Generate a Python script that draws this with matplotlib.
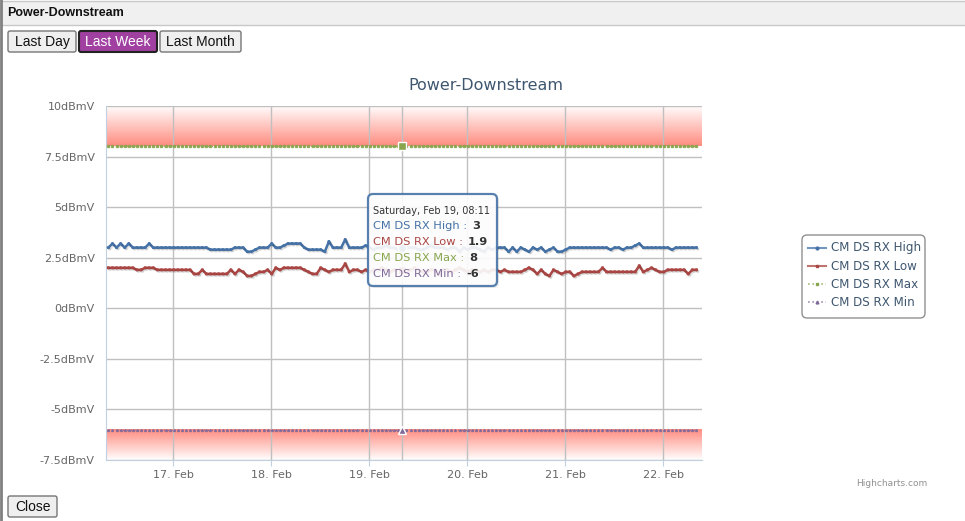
import datetime as dt
import numpy as np
import matplotlib
matplotlib.use("Agg")
import matplotlib.pyplot as plt
import matplotlib.dates as mdates
import matplotlib.patheffects as pe
from matplotlib.patches import Rectangle, FancyBboxPatch
from matplotlib.colors import LinearSegmentedColormap
from matplotlib.ticker import FuncFormatter

# hourly samples, Feb 16 08:11 -> Feb 22 08:11
start = dt.datetime(2011, 2, 16, 8, 11)

rx_high = [3.0, 3.2, 3.0, 3.2, 3.0, 3.2, 3.0, 3.0, 3.0, 3.0,
           3.2,
           3.0, 3.0, 3.0, 3.0, 3.0, 3.0, 3.0, 3.0, 3.0, 3.0, 3.0, 3.0, 3.0, 3.0,
           2.9, 2.9, 2.9, 2.9, 2.9, 2.9,
           3.0, 3.0, 3.0,
           2.8, 2.8,
           2.9, 3.0, 3.0, 3.0, 3.2, 3.0, 3.0, 3.1, 3.2, 3.2, 3.2, 3.2,
           3.0, 2.9, 2.9, 2.9, 2.9, 2.8, 3.3, 3.0, 3.0, 3.0, 3.4, 3.0, 3.0, 3.0, 3.0, 3.1, 3.0,
           2.9, 3.0, 3.0, 3.1, 3.0, 3.0, 2.9, 3.0, 3.0, 3.0, 3.0, 2.9, 2.9, 3.0, 3.1,
           3.0, 3.0, 3.0, 2.9, 3.0, 3.0, 2.8, 3.0, 2.9, 3.0, 3.0, 2.9, 2.8, 3.0, 2.9,
           3.0, 3.0, 3.0, 2.8, 3.0, 2.8, 3.0, 2.9, 2.8, 3.0,
           2.9, 3.0, 2.8, 2.9, 3.0, 2.8, 2.8, 2.9, 3.0, 3.0,
           3.0, 3.0, 3.0, 3.0, 3.0, 3.0, 3.0, 3.0, 2.9, 3.0,
           3.0, 2.9, 3.0, 3.0, 3.1, 3.2, 3.0, 3.0, 3.0, 3.0,
           3.0, 3.0, 3.0, 2.9, 3.0, 3.0, 3.0, 3.0, 3.0, 3.0]

rx_low = [2.0, 2.0, 2.0, 2.0, 2.0, 2.0, 2.0,
          1.9, 1.9,
          2.0, 2.0, 2.0,
          1.9, 1.9, 1.9, 1.9, 1.9, 1.9, 1.9, 1.9, 1.9,
          1.7, 1.7,
          1.9,
          1.7, 1.7, 1.7, 1.7, 1.7, 1.7,
          1.9, 1.7, 1.9, 1.8, 1.6, 1.6,
          1.7, 1.8, 1.8, 1.9, 1.7, 2.0, 1.9, 2.0, 2.0, 2.0, 2.0, 2.0,
          1.9, 1.8, 1.7, 1.7, 2.0, 1.9, 1.8, 1.9, 1.9, 1.9, 2.2, 1.8, 1.9, 1.9, 1.8, 1.9,
          1.8, 1.9, 1.9, 2.0, 1.9, 1.8, 1.9, 1.9, 1.9, 1.8,
          1.9, 2.0, 1.9, 1.8, 1.8, 1.9, 1.9, 1.7, 1.9, 1.9,
          1.8, 1.9, 2.0, 1.9, 1.8, 1.9, 1.9, 1.8, 1.9, 1.8,
          1.9, 1.9, 1.8, 1.9, 1.8, 1.8, 1.8, 1.8, 1.9, 2.0,
          1.9, 1.7, 1.9, 1.7, 1.6, 1.9, 1.8, 1.7, 1.8, 1.8,
          1.6, 1.7, 1.8, 1.8, 1.8, 1.8, 1.8, 2.0, 1.8, 1.8,
          1.8, 1.8, 1.8, 1.8, 1.8, 1.8, 2.1, 1.8, 1.9, 2.0,
          1.9, 1.8, 1.8, 1.9, 1.9, 1.9, 1.9, 1.9, 1.7, 1.9,
          1.9]

times = [start + dt.timedelta(hours=i) for i in range(len(rx_high))]
rx_max = [8] * len(times)
rx_min = [-6] * len(times)

series_names = ["CM DS RX High", "CM DS RX Low", "CM DS RX Max", "CM DS RX Min"]
series_vals = [rx_high, rx_low, rx_max, rx_min]
colors = ["#4572A7", "#AA4643", "#89A54E", "#80699B"]
styles = ["-", "-", ":", ":"]
markers = ["o", "s", "s", "^"]

y_ticks = [-7.5, -5, -2.5, 0, 2.5, 5, 7.5, 10]
tip_idx = 72  # Saturday, Feb 19, 08:11

W, H = 965, 521


def frac(x0, y0, x1, y1):
    return [x0 / W, 1 - y1 / H, (x1 - x0) / W, (y1 - y0) / H]


fig = plt.figure(figsize=(W / 100, H / 100), dpi=100)
fig.patch.set_facecolor("white")

ax = fig.add_axes(frac(106, 106, 702, 460))
x0 = dt.datetime(2011, 2, 16, 7, 36)
x1 = dt.datetime(2011, 2, 22, 9, 33)

# red gradient plot bands
band_cmap = LinearSegmentedColormap.from_list("band", ["#ffffff", "#ff8c80"])
grad = np.linspace(0, 1, 256).reshape(-1, 1)
ext_x = [mdates.date2num(x0), mdates.date2num(x1)]
ax.imshow(grad, cmap=band_cmap, extent=ext_x + [8, 10], origin="upper",
          aspect="auto", zorder=0, interpolation="bilinear")
ax.imshow(1 - grad, cmap=band_cmap, extent=ext_x + [-7.5, -6], origin="upper",
          aspect="auto", zorder=0, interpolation="bilinear")

for yv in y_ticks:
    ax.axhline(yv, color="#C0C0C0", lw=1, zorder=1)
days = [dt.datetime(2011, 2, d) for d in range(17, 23)]
for d in days:
    ax.axvline(d, color="#C0C0C0", lw=1, zorder=1)
ax.axvline(times[tip_idx], color="#C0C0C0", lw=1, zorder=1)

shadow = [pe.SimpleLineShadow(offset=(1, -1), shadow_color="k", alpha=0.1), pe.Normal()]
for vals, c, ls, mk in zip(series_vals, colors, styles, markers):
    if ls == "-":
        ax.plot(times, vals, color=c, lw=1.8, ls=ls, marker=mk, ms=1.2,
                mec=c, zorder=3, path_effects=shadow)
    else:
        ax.plot(times, vals, color=c, lw=1, ls=ls, marker=mk, ms=1.4,
                mec=c, alpha=0.9, zorder=3)
    ax.plot([times[tip_idx]], [vals[tip_idx]], marker=mk, ms=6,
            mfc=c, mec="white", mew=1, zorder=4)

ax.set_xlim(x0, x1)
ax.set_ylim(-7.5, 10)
ax.set_yticks(y_ticks)
ax.yaxis.set_major_formatter(FuncFormatter(lambda v, p: f"{v:g}dBmV"))
ax.set_xticks(days)
ax.xaxis.set_major_formatter(mdates.DateFormatter("%d. %b"))
ax.tick_params(axis="y", length=0, pad=8, labelsize=8, labelcolor="#666666")
ax.tick_params(axis="x", length=4, color="#C0D0E0", pad=3, labelsize=8,
               labelcolor="#666666")
for s in ["top", "right"]:
    ax.spines[s].set_visible(False)
for s in ["left", "bottom"]:
    ax.spines[s].set_color("#C0D0E0")

# page chrome, legend, tooltip
ui = fig.add_axes([0, 0, 1, 1], zorder=5)
ui.set_xlim(0, W)
ui.set_ylim(H, 0)
ui.axis("off")
ui.patch.set_alpha(0)

ui.add_patch(Rectangle((1, 0.5), W, 24, facecolor="#f0f0f0", edgecolor="#c8c8c8", lw=1))
ui.text(7, 13, "Power-Downstream", fontsize=9, fontweight="bold",
        family="Liberation Sans", va="center", color="#111111")
ui.plot([0.8, 0.8], [0, H], color="#808080", lw=2)

buttons = [("Last Day", 8, 76), ("Last Week", 79, 157), ("Last Month", 160, 241)]
for label, bx0, bx1 in buttons:
    active = label == "Last Week"
    ui.add_patch(FancyBboxPatch((bx0, 31), bx1 - bx0, 21,
                                boxstyle="round,pad=0,rounding_size=2",
                                facecolor="#a040a0" if active else "#efefef",
                                edgecolor="#222222" if active else "#767676",
                                lw=1.5 if active else 1))
    ui.text((bx0 + bx1) / 2, 42, label, fontsize=10, family="Liberation Sans",
            ha="center", va="center", color="white" if active else "#111111")

ui.add_patch(FancyBboxPatch((8, 496), 49, 21, boxstyle="round,pad=0,rounding_size=2",
                            facecolor="#efefef", edgecolor="#767676", lw=1))
ui.text(32.5, 507, "Close", fontsize=10, family="Liberation Sans",
        ha="center", va="center", color="#111111")

ui.text(486, 85, "Power-Downstream", fontsize=11.5, ha="center", va="center",
        color="#3E576F")
ui.text(927, 484, "Highcharts.com", fontsize=6.5, ha="right", va="center",
        color="#909090")

# legend
ui.add_patch(FancyBboxPatch((802, 235), 123, 83, boxstyle="round,pad=0,rounding_size=5",
                            facecolor="white", edgecolor="#909090", lw=1))
for i, (name, c, ls, mk) in enumerate(zip(series_names, colors, styles, markers)):
    ly = 248 + 18 * i
    ui.plot([808, 826], [ly, ly], color=c, lw=1.5 if ls == "-" else 1.2, ls=ls, alpha=0.75)
    ui.plot([817], [ly], marker=mk, ms=2, color=c)
    ui.text(831, ly, name, fontsize=8.6, va="center", color="#3E576F")

# tooltip
ui.add_patch(FancyBboxPatch((370, 196), 129, 92, boxstyle="round,pad=0,rounding_size=5",
                            facecolor="black", edgecolor="none", alpha=0.08))
ui.add_patch(FancyBboxPatch((368, 194), 129, 92, boxstyle="round,pad=0,rounding_size=5",
                            facecolor="white", edgecolor="#4572A7", lw=1.6, alpha=0.9))
tip_time = times[tip_idx]
ui.text(373, 211, tip_time.strftime("%A, %b %d, %H:%M"), fontsize=7,
        va="center", color="#333333")
fig.canvas.draw()
renderer = fig.canvas.get_renderer()
for i, (name, vals, c) in enumerate(zip(series_names, series_vals, colors)):
    ty = 226 + 16 * i
    lab = ui.text(373, ty, name + " :", fontsize=8.2, va="center", color=c)
    bb = lab.get_window_extent(renderer)
    vx = bb.x1 + 5  # pixels from the left (dpi 100, 1:1)
    ui.text(vx, ty, f"{vals[tip_idx]:g}", fontsize=8.2, va="center",
            fontweight="bold", color="#333333")

fig.savefig("out.png", dpi=100)
